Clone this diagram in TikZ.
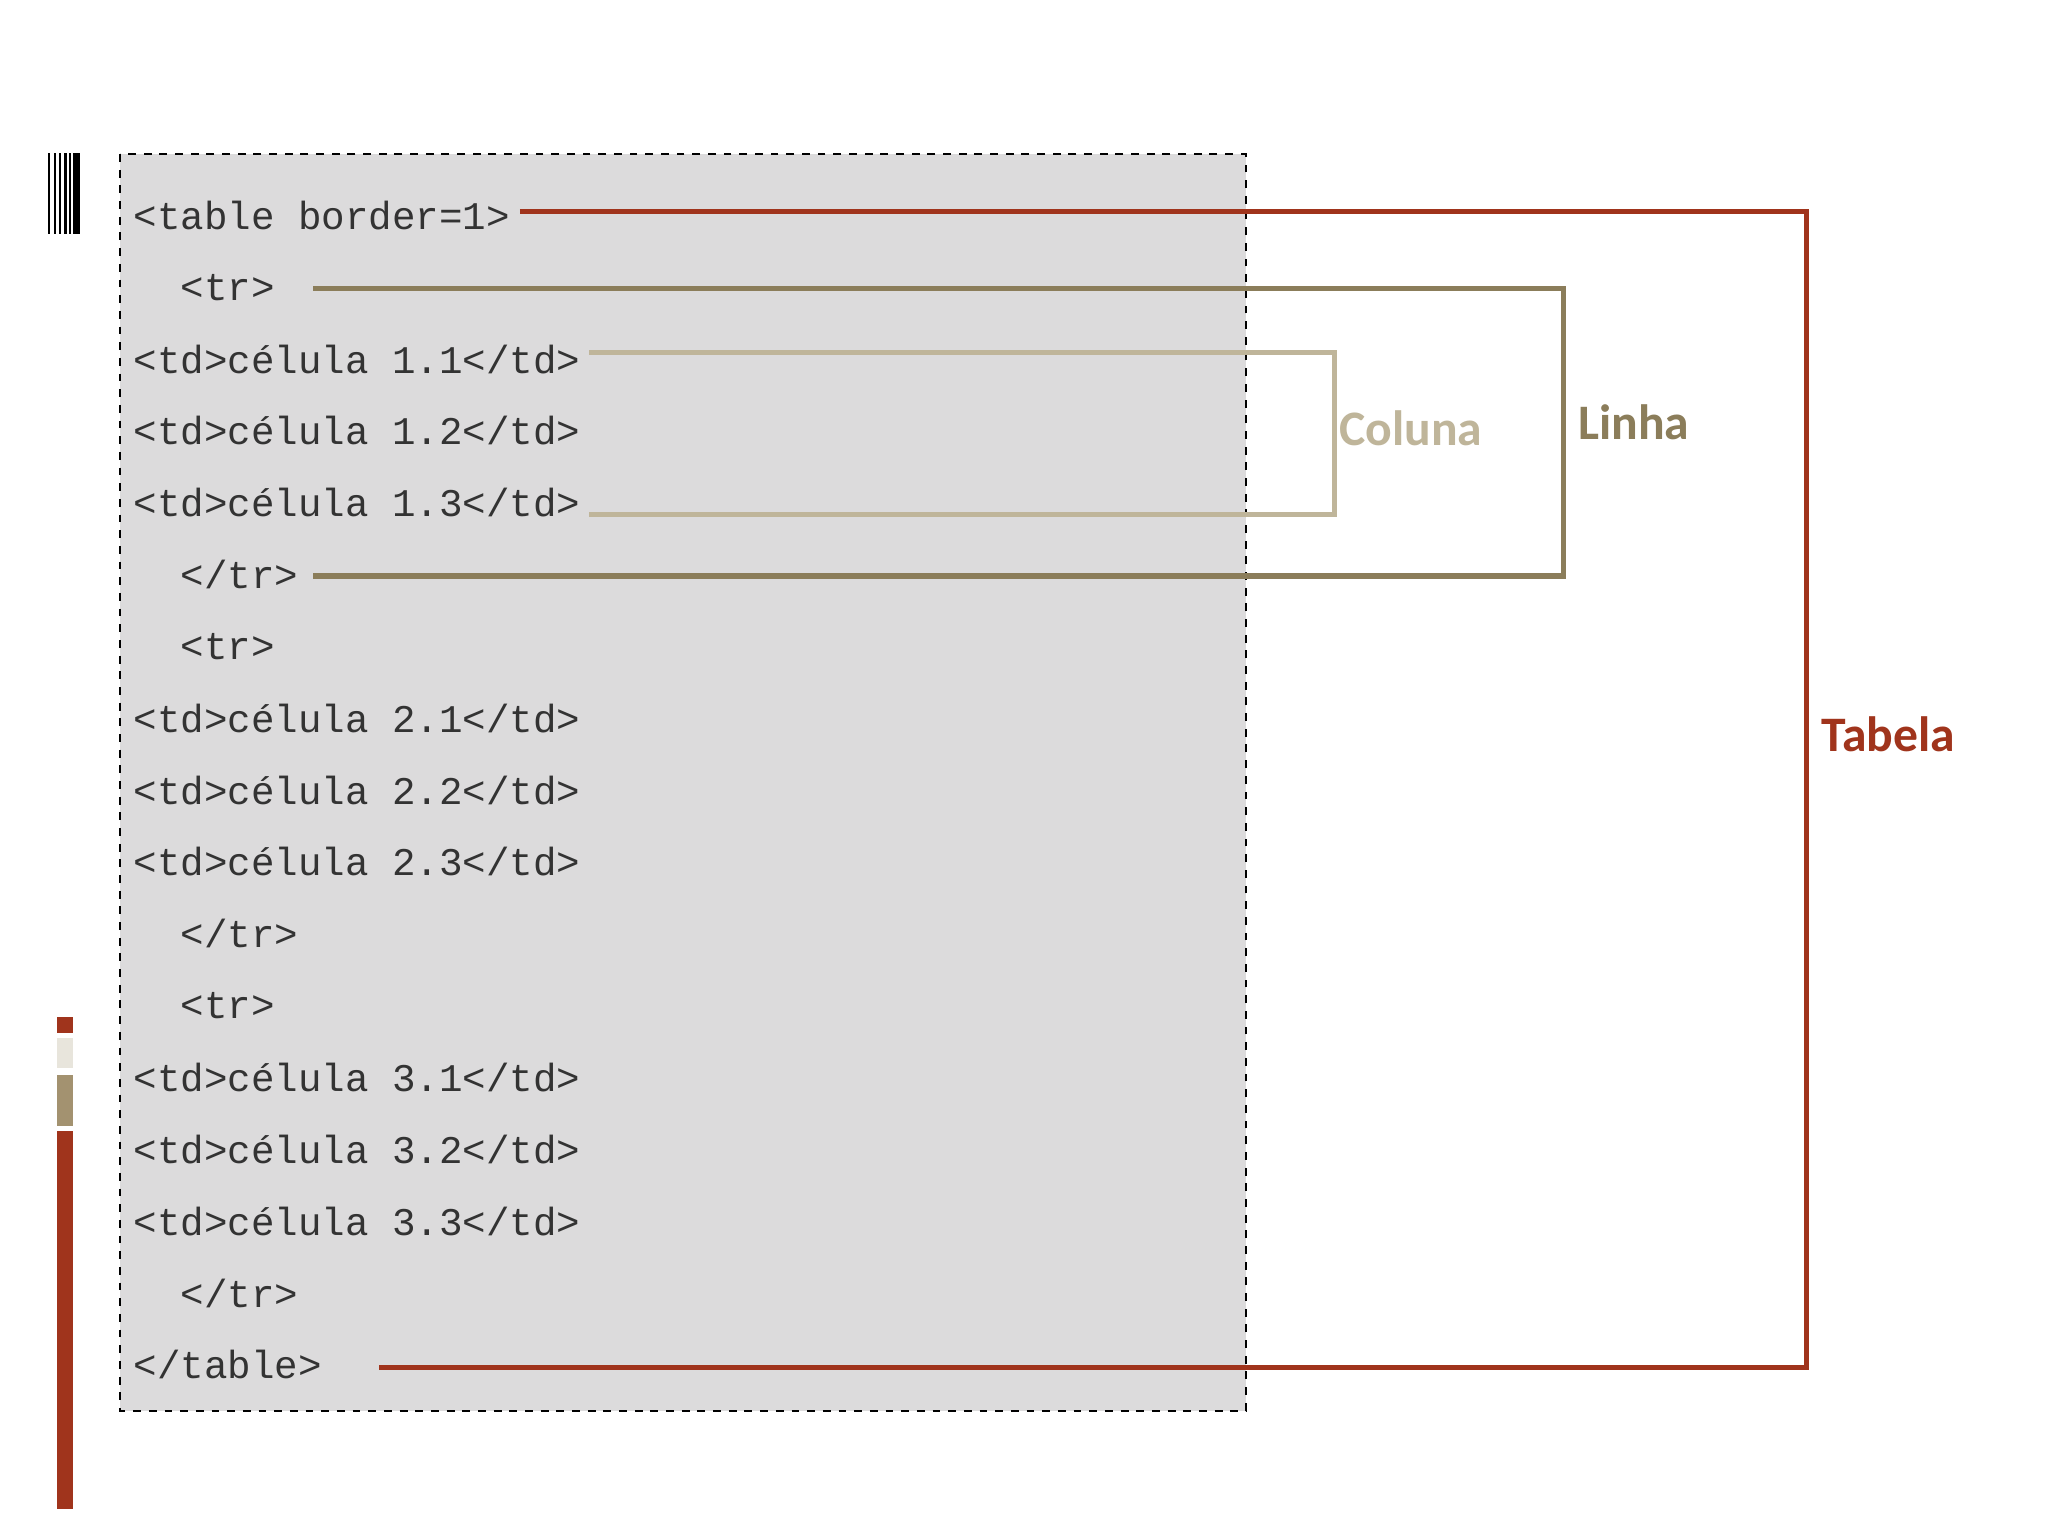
\documentclass[tikz,border=0pt]{standalone}
\usepackage{fontspec}
\setmainfont{Carlito}
\newfontfamily\codefont{Liberation Mono}
\definecolor{tred}{HTML}{A0341C}
\definecolor{ttan}{HTML}{8B7D5A}
\definecolor{tlight}{HTML}{BFB59A}
\definecolor{tgray}{HTML}{DCDBDC}
\definecolor{tbtan}{HTML}{A39270}
\definecolor{tbeige}{HTML}{E8E5DC}
\tikzset{code/.style={anchor=west,inner sep=0pt,font=\codefont\fontsize{15}{15}\selectfont,text=black!80},
lbl/.style={anchor=west,inner sep=0pt,font=\bfseries\fontsize{19}{19}\selectfont},
conn/.style={line width=2pt}}
\begin{document}
\begin{tikzpicture}[x=0.5pt,y=-0.5pt]
\useasboundingbox (0,0) rectangle (1568,1176);
\fill[white] (0,0) rectangle (1568,1176);
\draw[dashed,fill=tgray,line width=0.8pt] (92,118) rectangle (954,1080);
% barcode
\foreach \x/\w in {37/1.5,41/2,45/1.5,49/2.5,53/1,56/5}{\fill[black] (\x,117) rectangle (\x+\w,179);}
% color bar
\fill[tred] (44,779) rectangle (56,791);
\fill[tbeige] (44,795) rectangle (56,818);
\fill[tbtan] (44,823) rectangle (56,862);
\fill[tred] (44,866) rectangle (56,1155);
% code
\node[code] (l1) at (102,165) {<table border=1>};
\node[code] (l2) at (138,220) {<tr>};
\node[code] (l3) at (102,275) {<td>célula 1.1</td>};
\node[code] (l4) at (102,330) {<td>célula 1.2</td>};
\node[code] (l5) at (102,385) {<td>célula 1.3</td>};
\node[code] (l6) at (138,440) {</tr>};
\node[code] (l7) at (138,495) {<tr>};
\node[code] (l8) at (102,550) {<td>célula 2.1</td>};
\node[code] (l9) at (102,605) {<td>célula 2.2</td>};
\node[code] (l10) at (102,660) {<td>célula 2.3</td>};
\node[code] (l11) at (138,715) {</tr>};
\node[code] (l12) at (138,770) {<tr>};
\node[code] (l13) at (102,825) {<td>célula 3.1</td>};
\node[code] (l14) at (102,880) {<td>célula 3.2</td>};
\node[code] (l15) at (102,935) {<td>célula 3.3</td>};
\node[code] (l16) at (138,990) {</tr>};
\node[code] (l17) at (102,1045) {</table>};
% connectors
\coordinate (t1) at (398,162); \coordinate (t2) at (1383,162);
\coordinate (t3) at (1383,1047); \coordinate (t4) at (290,1047);
\draw[conn,tred] (t1) -- (t2) -- (t3) -- (t4);
\coordinate (r1) at (240,221); \coordinate (r2) at (1197,221);
\coordinate (r3) at (1197,441); \coordinate (r4) at (240,441);
\draw[conn,ttan] (r1) -- (r2) -- (r3) -- (r4);
\coordinate (c1) at (451,270); \coordinate (c2) at (1022,270);
\coordinate (c3) at (1022,394); \coordinate (c4) at (451,394);
\draw[conn,tlight] (c1) -- (c2) -- (c3) -- (c4);
\node[lbl,text=tlight] (coluna) at (1025,328) {Coluna};
\node[lbl,text=ttan] (linha) at (1208,323) {Linha};
\node[lbl,text=tred] (tabela) at (1394,562) {Tabela};
\end{tikzpicture}
\end{document}
